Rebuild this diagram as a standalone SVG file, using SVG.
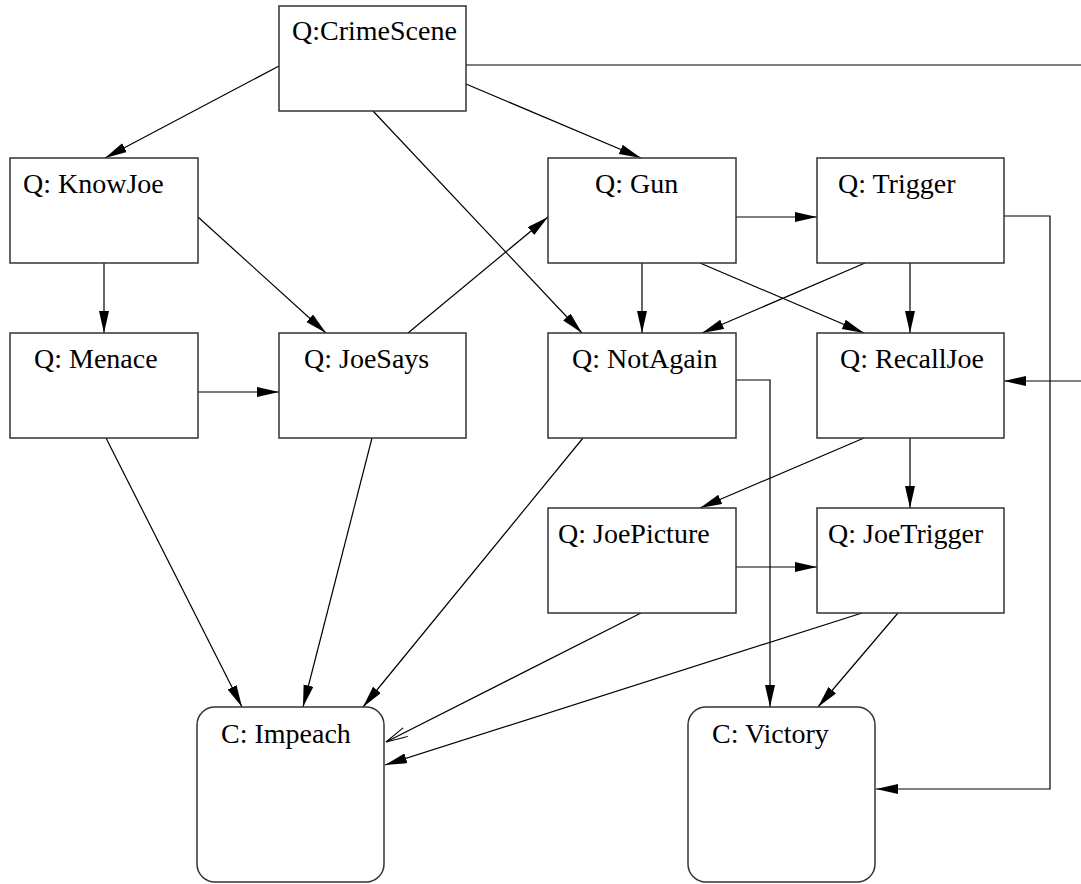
<svg xmlns="http://www.w3.org/2000/svg" width="1081" height="884" viewBox="0 0 1081 884">
<style>
.box{fill:#fff;stroke:#333;stroke-width:1.5}
.t{font-family:"Liberation Serif","Times New Roman",serif;font-size:28px;fill:#000}
.e{fill:none;stroke:#000;stroke-width:1.2}
</style>
<defs>
<marker id="a" markerUnits="userSpaceOnUse" markerWidth="24" markerHeight="12" refX="22" refY="5" orient="auto" viewBox="0 0 24 12"><path d="M0,0 L22,5 L0,10 z" fill="#000"/></marker>
<marker id="o" markerUnits="userSpaceOnUse" markerWidth="24" markerHeight="12" refX="22" refY="5" orient="auto" viewBox="0 0 24 12"><path d="M0,0 L22,5 L0,10" fill="none" stroke="#000" stroke-width="1"/></marker>
</defs>
<rect width="1081" height="884" fill="#fff"/>
<g id="connectors">
<line class="e" x1="279" y1="66" x2="105" y2="158" marker-end="url(#a)"/>
<line class="e" x1="466" y1="84" x2="641" y2="158" marker-end="url(#a)"/>
<line class="e" x1="373" y1="111" x2="582" y2="333" marker-end="url(#a)"/>
<line class="e" x1="466" y1="65" x2="1081" y2="65"/>
<line class="e" x1="1081" y1="381" x2="1004" y2="381" marker-end="url(#a)"/>
<line class="e" x1="104" y1="263" x2="104" y2="333" marker-end="url(#a)"/>
<line class="e" x1="198" y1="217" x2="326" y2="333" marker-end="url(#a)"/>
<line class="e" x1="198" y1="392" x2="279" y2="392" marker-end="url(#a)"/>
<line class="e" x1="408" y1="333" x2="548" y2="217" marker-end="url(#a)"/>
<line class="e" x1="736" y1="217" x2="817" y2="217" marker-end="url(#a)"/>
<line class="e" x1="642" y1="263" x2="642" y2="333" marker-end="url(#a)"/>
<line class="e" x1="700" y1="263" x2="864" y2="333" marker-end="url(#a)"/>
<line class="e" x1="865" y1="263" x2="702" y2="333" marker-end="url(#a)"/>
<line class="e" x1="910" y1="263" x2="910" y2="333" marker-end="url(#a)"/>
<polyline class="e" points="1004,216 1050,216 1050,789 876,789" marker-end="url(#a)"/>
<polyline class="e" points="736,380 770,380 770,707" marker-end="url(#a)"/>
<line class="e" x1="910" y1="438" x2="910" y2="508" marker-end="url(#a)"/>
<line class="e" x1="864" y1="438" x2="700" y2="508" marker-end="url(#a)"/>
<line class="e" x1="736" y1="567" x2="817" y2="567" marker-end="url(#a)"/>
<line class="e" x1="106" y1="438" x2="242" y2="707" marker-end="url(#a)"/>
<line class="e" x1="372" y1="438" x2="303" y2="707" marker-end="url(#a)"/>
<line class="e" x1="583" y1="438" x2="363" y2="707" marker-end="url(#a)"/>
<line class="e" x1="641" y1="613" x2="386" y2="742" marker-end="url(#o)"/>
<line class="e" x1="862" y1="613" x2="385" y2="765" marker-end="url(#a)"/>
<line class="e" x1="898" y1="613" x2="818" y2="707" marker-end="url(#a)"/>
</g>
<g id="crimescene"><rect class="box" x="279" y="6" width="187" height="105"/><text class="t" x="292" y="40">Q:CrimeScene</text></g>
<g id="knowjoe"><rect class="box" x="10" y="158" width="188" height="105"/><text class="t" x="23" y="193">Q: KnowJoe</text></g>
<g id="gun"><rect class="box" x="548" y="158" width="188" height="105"/><text class="t" x="595" y="193">Q: Gun</text></g>
<g id="trigger"><rect class="box" x="817" y="158" width="187" height="105"/><text class="t" x="838" y="193">Q: Trigger</text></g>
<g id="menace"><rect class="box" x="10" y="333" width="188" height="105"/><text class="t" x="34" y="368">Q: Menace</text></g>
<g id="joesays"><rect class="box" x="279" y="333" width="187" height="105"/><text class="t" x="304" y="368">Q: JoeSays</text></g>
<g id="notagain"><rect class="box" x="548" y="333" width="188" height="105"/><text class="t" x="572" y="368">Q: NotAgain</text></g>
<g id="recalljoe"><rect class="box" x="817" y="333" width="187" height="105"/><text class="t" x="840" y="368">Q: RecallJoe</text></g>
<g id="joepicture"><rect class="box" x="548" y="508" width="188" height="105"/><text class="t" x="558" y="543">Q: JoePicture</text></g>
<g id="joetrigger"><rect class="box" x="817" y="508" width="187" height="105"/><text class="t" x="828" y="543">Q: JoeTrigger</text></g>
<g id="impeach"><rect class="box" x="197" y="707" width="187" height="175" rx="18"/><text class="t" x="221" y="743">C: Impeach</text></g>
<g id="victory"><rect class="box" x="688" y="707" width="187" height="175" rx="18"/><text class="t" x="712" y="743">C: Victory</text></g>
</svg>
